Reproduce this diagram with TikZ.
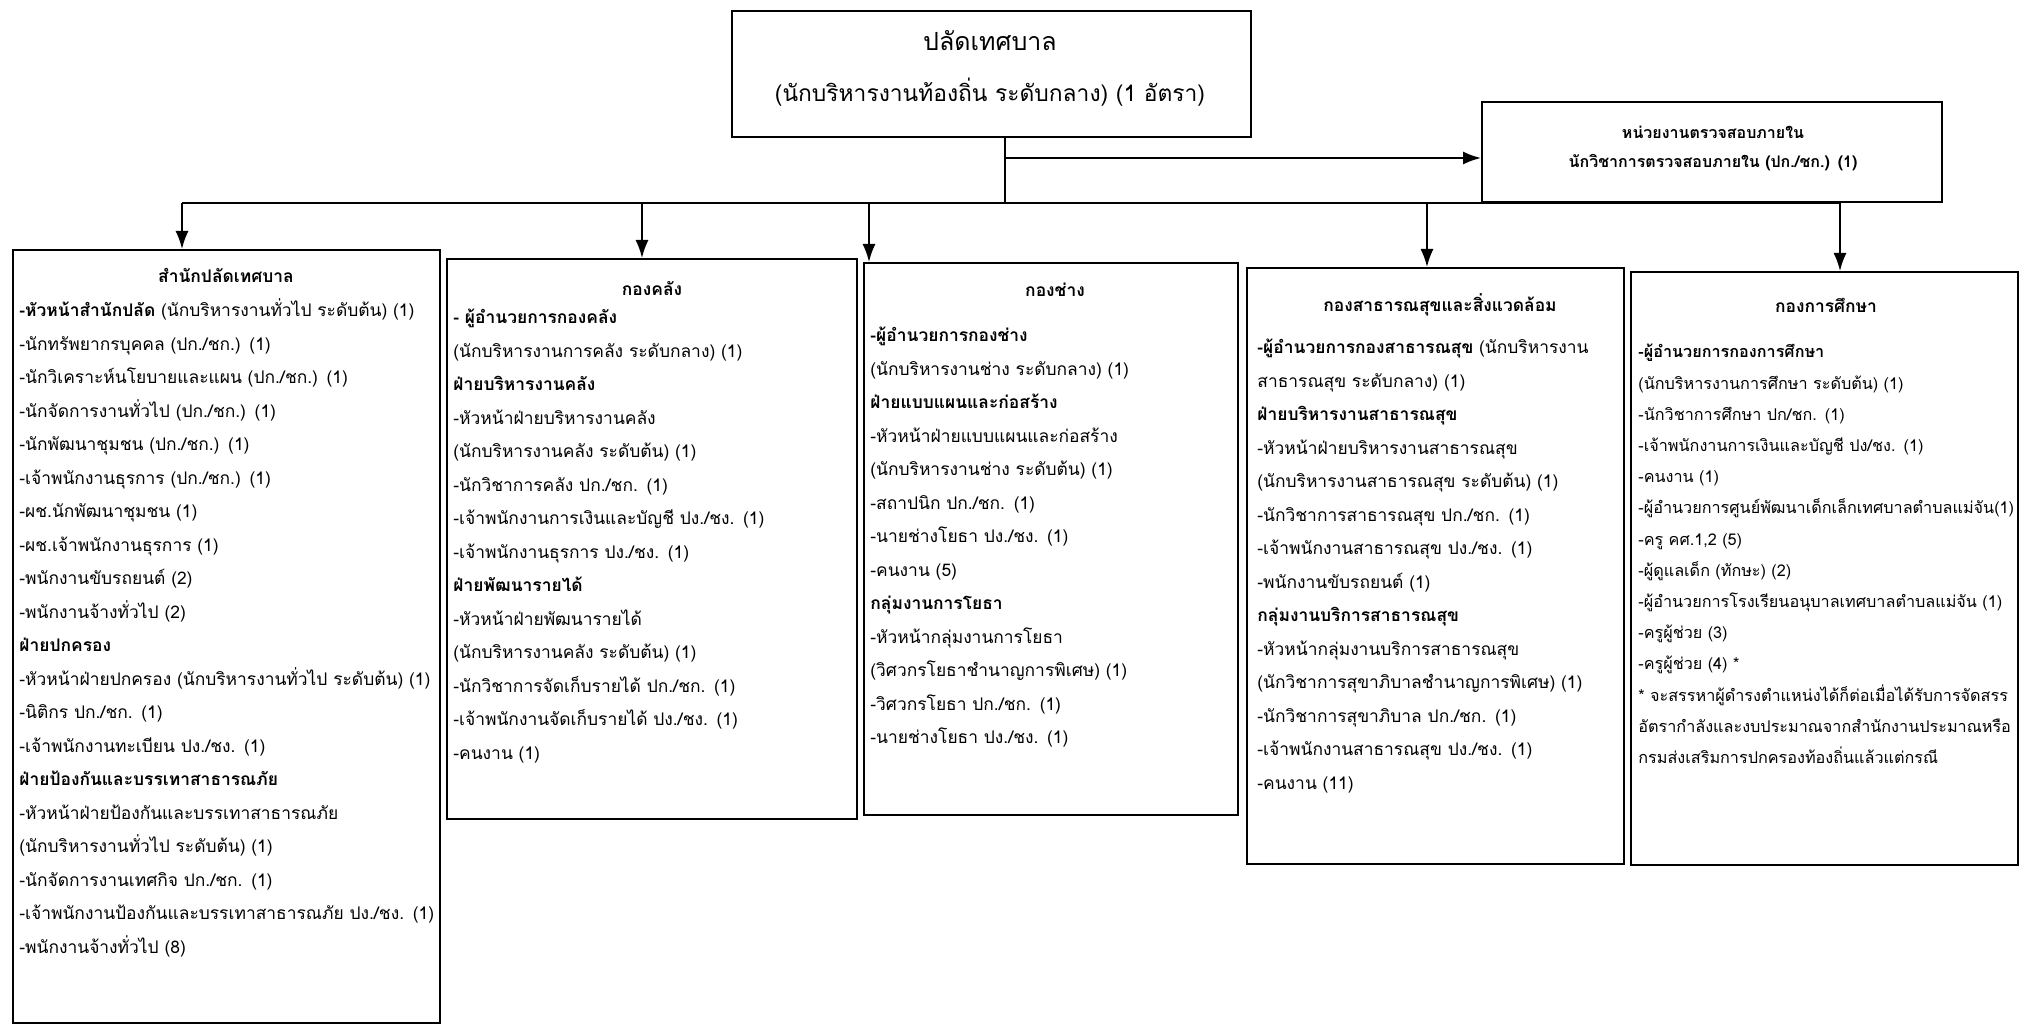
\documentclass[tikz,border=0pt]{standalone}
\usepackage{fontspec}
\usepackage{tikz}
\usetikzlibrary{arrows.meta}
\newfontfamily\thaifont[Script=Thai]{Loma}

\begin{document}
\begin{tikzpicture}[x=0.5pt,y=-0.5pt,
	box/.style={draw,line width=1pt,anchor=north west,inner sep=0pt},
	txt/.style={anchor=base west,inner sep=0pt,text width=250pt,align=left,
		font=\thaifont\fontsize{8.7}{16.75}\selectfont},
	txtedu/.style={txt,font=\thaifont\fontsize{8.1}{15.6}\selectfont},
	ttl/.style={anchor=base,inner sep=0pt,font=\thaifont\bfseries\fontsize{8.7}{16.75}\selectfont},
	conn/.style={line width=0.9pt},
	>={Latex[length=9pt,width=6.5pt]}]
	\useasboundingbox (0,0) rectangle (2025,1026);

	\node[box,minimum width=259.5pt,minimum height=63pt] (head) at (731,10) {};
	\node[box,minimum width=230pt,minimum height=50pt] (audit) at (1481,101) {};
	\node[box,minimum width=213.5pt,minimum height=386.5pt] (d1) at (12,249) {};
	\node[box,minimum width=205pt,minimum height=280pt] (d2) at (446,258) {};
	\node[box,minimum width=187pt,minimum height=276pt] (d3) at (863,262) {};
	\node[box,minimum width=188.5pt,minimum height=298pt] (d4) at (1246,267) {};
	\node[box,minimum width=193.5pt,minimum height=296.5pt] (d5) at (1630,271) {};

	\node[anchor=base,inner sep=0pt,font=\thaifont\fontsize{12.5}{25}\selectfont] (head-t) at (990,51)
		{ปลัดเทศบาล};
	\node[anchor=base,inner sep=0pt,font=\thaifont\fontsize{11.4}{25}\selectfont] (head-s) at (990,102)
		{(นักบริหารงานท้องถิ่น ระดับกลาง) (1 อัตรา)};
	\node[anchor=base,inner sep=0pt,text width=230pt,align=center,
		font=\thaifont\bfseries\fontsize{8}{14.5}\selectfont] (audit-t) at (1713,139)
		{หน่วยงานตรวจสอบภายใน\\นักวิชาการตรวจสอบภายใน (ปก./ชก.) (1)};

	\node[ttl] (d1-t) at (226,283) {สำนักปลัดเทศบาล};
	\node[txt] (d1-l) at (19,317) {%
		{\bfseries -หัวหน้าสำนักปลัด} (นักบริหารงานทั่วไป ระดับต้น) (1)\\
		-นักทรัพยากรบุคคล (ปก./ชก.) (1)\\
		-นักวิเคราะห์นโยบายและแผน (ปก./ชก.) (1)\\
		-นักจัดการงานทั่วไป (ปก./ชก.) (1)\\
		-นักพัฒนาชุมชน (ปก./ชก.) (1)\\
		-เจ้าพนักงานธุรการ (ปก./ชก.) (1)\\
		-ผช.นักพัฒนาชุมชน (1)\\
		-ผช.เจ้าพนักงานธุรการ (1)\\
		-พนักงานขับรถยนต์ (2)\\
		-พนักงานจ้างทั่วไป (2)\\
		{\bfseries ฝ่ายปกครอง}\\
		-หัวหน้าฝ่ายปกครอง (นักบริหารงานทั่วไป ระดับต้น) (1)\\
		-นิติกร ปก./ชก. (1)\\
		-เจ้าพนักงานทะเบียน ปง./ชง. (1)\\
		{\bfseries ฝ่ายป้องกันและบรรเทาสาธารณภัย}\\
		-หัวหน้าฝ่ายป้องกันและบรรเทาสาธารณภัย\\
		(นักบริหารงานทั่วไป ระดับต้น) (1)\\
		-นักจัดการงานเทศกิจ ปก./ชก. (1)\\
		-เจ้าพนักงานป้องกันและบรรเทาสาธารณภัย ปง./ชง. (1)\\
		-พนักงานจ้างทั่วไป (8)};

	\node[ttl] (d2-t) at (652,296) {กองคลัง};
	\node[txt] (d2-l) at (453,324) {%
		{\bfseries - ผู้อำนวยการกองคลัง}\\
		(นักบริหารงานการคลัง ระดับกลาง) (1)\\
		{\bfseries ฝ่ายบริหารงานคลัง}\\
		-หัวหน้าฝ่ายบริหารงานคลัง\\
		(นักบริหารงานคลัง ระดับต้น) (1)\\
		-นักวิชาการคลัง ปก./ชก. (1)\\
		-เจ้าพนักงานการเงินและบัญชี ปง./ชง. (1)\\
		-เจ้าพนักงานธุรการ ปง./ชง. (1)\\
		{\bfseries ฝ่ายพัฒนารายได้}\\
		-หัวหน้าฝ่ายพัฒนารายได้\\
		(นักบริหารงานคลัง ระดับต้น) (1)\\
		-นักวิชาการจัดเก็บรายได้ ปก./ชก. (1)\\
		-เจ้าพนักงานจัดเก็บรายได้ ปง./ชง. (1)\\
		-คนงาน (1)};

	\node[ttl] (d3-t) at (1055,297) {กองช่าง};
	\node[txt] (d3-l) at (870,342) {%
		{\bfseries -ผู้อำนวยการกองช่าง}\\
		(นักบริหารงานช่าง ระดับกลาง) (1)\\
		{\bfseries ฝ่ายแบบแผนและก่อสร้าง}\\
		-หัวหน้าฝ่ายแบบแผนและก่อสร้าง\\
		(นักบริหารงานช่าง ระดับต้น) (1)\\
		-สถาปนิก ปก./ชก. (1)\\
		-นายช่างโยธา ปง./ชง. (1)\\
		-คนงาน (5)\\
		{\bfseries กลุ่มงานการโยธา}\\
		-หัวหน้ากลุ่มงานการโยธา\\
		(วิศวกรโยธาชำนาญการพิเศษ) (1)\\
		-วิศวกรโยธา ปก./ชก. (1)\\
		-นายช่างโยธา ปง./ชง. (1)};

	\node[ttl] (d4-t) at (1440,312) {กองสาธารณสุขและสิ่งแวดล้อม};
	\node[txt] (d4-l) at (1257,354) {%
		{\bfseries -ผู้อำนวยการกองสาธารณสุข} (นักบริหารงาน\\
		สาธารณสุข ระดับกลาง) (1)\\
		{\bfseries ฝ่ายบริหารงานสาธารณสุข}\\
		-หัวหน้าฝ่ายบริหารงานสาธารณสุข\\
		(นักบริหารงานสาธารณสุข ระดับต้น) (1)\\
		-นักวิชาการสาธารณสุข ปก./ชก. (1)\\
		-เจ้าพนักงานสาธารณสุข ปง./ชง. (1)\\
		-พนักงานขับรถยนต์ (1)\\
		{\bfseries กลุ่มงานบริการสาธารณสุข}\\
		-หัวหน้ากลุ่มงานบริการสาธารณสุข\\
		(นักวิชาการสุขาภิบาลชำนาญการพิเศษ) (1)\\
		-นักวิชาการสุขาภิบาล ปก./ชก. (1)\\
		-เจ้าพนักงานสาธารณสุข ปง./ชง. (1)\\
		-คนงาน (11)};

	\node[ttl] (d5-t) at (1826,313) {กองการศึกษา};
	\node[txtedu] (d5-l) at (1638,358) {%
		{\bfseries -ผู้อำนวยการกองการศึกษา}\\
		(นักบริหารงานการศึกษา ระดับต้น) (1)\\
		-นักวิชาการศึกษา ปก/ชก. (1)\\
		-เจ้าพนักงานการเงินและบัญชี ปง/ชง. (1)\\
		-คนงาน (1)\\
		-ผู้อำนวยการศูนย์พัฒนาเด็กเล็กเทศบาลตำบลแม่จัน(1)\\
		-ครู คศ.1,2 (5)\\
		-ผู้ดูแลเด็ก (ทักษะ) (2)\\
		-ผู้อำนวยการโรงเรียนอนุบาลเทศบาลตำบลแม่จัน (1)\\
		-ครูผู้ช่วย (3)\\
		-ครูผู้ช่วย (4) *\\
		{*} จะสรรหาผู้ดำรงตำแหน่งได้ก็ต่อเมื่อได้รับการจัดสรร\\
		อัตรากำลังและงบประมาณจากสำนักงานประมาณหรือ\\
		กรมส่งเสริมการปกครองท้องถิ่นแล้วแต่กรณี};

	\coordinate (c1) at (1005,158);
	\coordinate (c2) at (1005,203);
	\coordinate (a1) at (182,203);
	\coordinate (a2) at (642,203);
	\coordinate (a3) at (869,203);
	\coordinate (a4) at (1427,203);
	\coordinate (a5) at (1840,203);

	\path[conn]
	(head.south -| c1) edge (c2)
	(a1) edge (a5);
	\path[conn,->]
	(c1) edge (c1 -| audit.west)
	(a1) edge (a1 |- d1.north)
	(a2) edge (a2 |- d2.north)
	(a3) edge (a3 |- d3.north)
	(a4) edge (a4 |- d4.north)
	(a5) edge (a5 |- d5.north);
\end{tikzpicture}
\end{document}
